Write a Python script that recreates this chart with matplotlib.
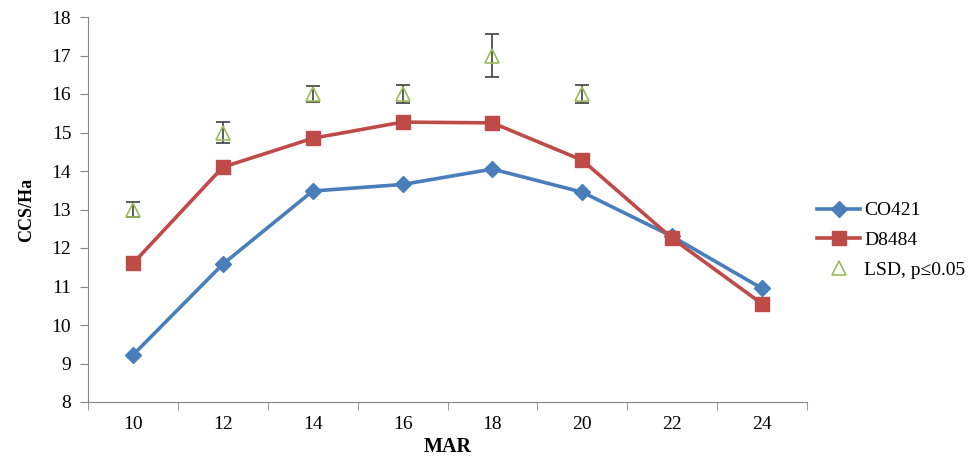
import numpy as np
import matplotlib.pyplot as plt

plt.rcParams['font.family'] = ['Liberation Serif', 'DejaVu Serif']

# Data
mar = ['10', '12', '14', '16', '18', '20', '22', '24']
co421 = [9.22, 11.58, 13.48, 13.65, 14.05, 13.45, 12.30, 10.95]
d8484 = [11.60, 14.10, 14.85, 15.27, 15.25, 14.28, 12.25, 10.55]
lsd_idx = [0, 1, 2, 3, 4, 5]
lsd = [13, 15, 16, 16, 17, 16]
lsd_err = [0.2, 0.27, 0.2, 0.24, 0.56, 0.23]

x = np.arange(len(mar))

fig = plt.figure(figsize=(9.76, 4.62), dpi=100)
ax = fig.add_axes([88/976, 60/462, (807-88)/976, (402-17)/462])

ax.plot(x, co421, color='#4A7EBB', linewidth=2.6, marker='D', markersize=8,
        label='CO421')
ax.plot(x, d8484, color='#BE4B48', linewidth=2.6, marker='s', markersize=10,
        label='D8484')
ax.errorbar(lsd_idx, lsd, yerr=lsd_err, fmt='none', ecolor='#404040',
            elinewidth=1.2, capsize=5, capthick=1.2)
ax.plot(lsd_idx, lsd, linestyle='none', marker='^', markersize=10,
        markerfacecolor='none', markeredgecolor='#9BBB59', markeredgewidth=1.2,
        label='LSD, p\u22640.05')

ax.set_xlim(-0.5, len(mar) - 0.5)
ax.set_ylim(8, 18)
ax.set_yticks(np.arange(8, 19, 1))
ax.set_xticks(x)
ax.set_xticklabels(mar)
ax.set_xticks(np.arange(-0.5, len(mar), 1), minor=True)
ax.tick_params(axis='x', which='major', length=0, pad=10, labelsize=14)
ax.tick_params(axis='x', which='minor', length=6, color='#868686', direction='out')
ax.tick_params(axis='y', length=6, color='#868686', labelsize=14, pad=6)

for s in ['top', 'right']:
    ax.spines[s].set_visible(False)
for s in ['left', 'bottom']:
    ax.spines[s].set_color('#868686')

ax.set_xlabel('MAR', fontsize=14.5, fontweight='bold', labelpad=3)
ax.set_ylabel('CCS/Ha', fontsize=13, fontweight='bold', labelpad=12)

ax.legend(loc='center left', bbox_to_anchor=(0.99, 0.42), frameon=False,
          fontsize=14, handlelength=2.2, labelspacing=0.62, handletextpad=0.2)

fig.savefig('out.png', dpi=100)
